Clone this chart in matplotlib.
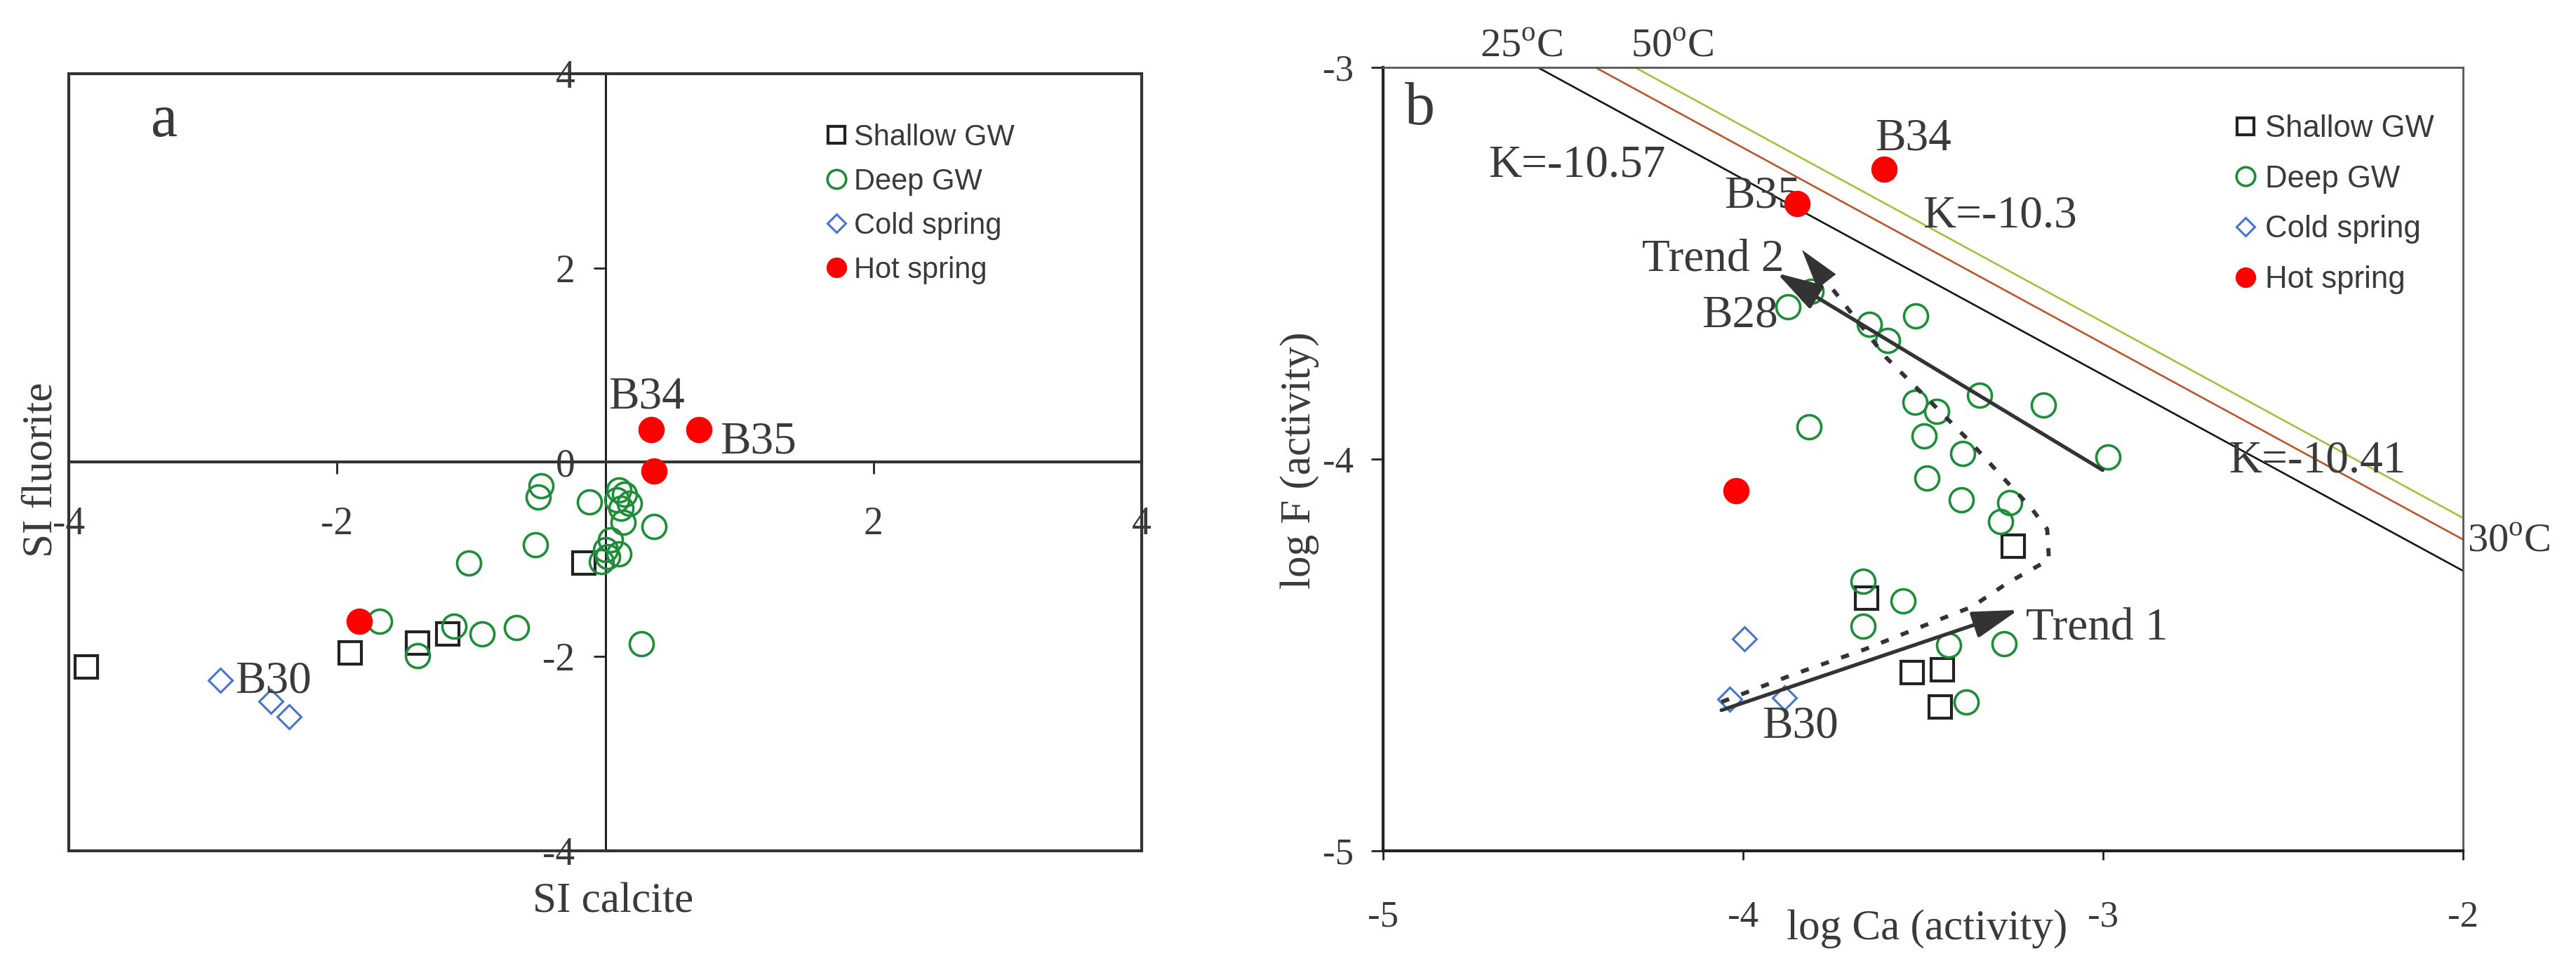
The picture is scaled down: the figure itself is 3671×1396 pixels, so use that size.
import matplotlib
matplotlib.use("Agg")
import matplotlib.pyplot as plt
from matplotlib.patches import Rectangle
import numpy as np

plt.rcParams['font.family'] = ['Liberation Serif', 'DejaVu Serif']
plt.rcParams['mathtext.fontset'] = 'custom'
plt.rcParams['mathtext.rm'] = 'Liberation Serif'
plt.rcParams['axes.unicode_minus'] = False

# ---------------- Panel a data (SI calcite, SI fluorite) ----------------
a_shallow_x = [-3.87, -1.90, -1.40, -1.175, -0.16]
a_shallow_y = [-2.11, -1.96, -1.86, -1.77, -1.04]
a_deep_x = [-0.48, -0.50, -0.12, 0.10, 0.145, 0.18, 0.085, 0.12, 0.365, 0.135,
            0.04, 0.005, 0.10, -0.03, 0.02, -0.52, -1.02, -0.66, -0.92, -1.13,
            -1.40, 0.27, -1.68]
a_deep_y = [-0.24, -0.36, -0.41, -0.285, -0.33, -0.42, -0.39, -0.47, -0.66, -0.62,
            -0.80, -0.90, -0.94, -1.02, -0.97, -0.85, -1.04, -1.70, -1.77, -1.69,
            -1.99, -1.87, -1.64]
a_cold_x = [-2.87, -2.495, -2.355]
a_cold_y = [-2.245, -2.46, -2.62]
a_hot_x = [0.342, 0.70, 0.363, -1.836]
a_hot_y = [0.339, 0.339, -0.092, -1.64]

# ---------------- Panel b data (log Ca, log F activity) ----------------
b_shallow_x = [-3.250, -3.656, -3.530, -3.446, -3.452]
b_shallow_y = [-4.223, -4.355, -4.545, -4.538, -4.632]
b_deep_x = [-3.876, -3.810, -3.648, -3.520, -3.598, -3.342, -3.165, -3.523, -3.461,
            -3.817, -3.496, -3.389, -2.986, -3.489, -3.394, -3.260, -3.285, -3.666,
            -3.555, -3.666, -3.429, -3.275, -3.379]
b_deep_y = [-3.611, -3.571, -3.656, -3.634, -3.697, -3.837, -3.862, -3.855, -3.878,
            -3.917, -3.940, -3.985, -3.995, -4.049, -4.104, -4.111, -4.159, -4.312,
            -4.362, -4.426, -4.474, -4.472, -4.620]
b_cold_x = [-3.996, -4.036, -3.884]
b_cold_y = [-4.458, -4.613, -4.609]
b_hot_x = [-3.608, -3.850, -4.020]
b_hot_y = [-3.260, -3.348, -4.081]

# fluorite saturation lines: log K values and temperatures
sat_K = [-10.57, -10.41, -10.3]
sat_colors = ['#151515', '#b8562c', '#9dc43f']

# trend annotations
trend1_tail = (-4.060, -4.641)
trend1_tip = (-3.235, -4.385)
trend2_tail = (-3.001, -4.028)
trend2_tip = (-3.906, -3.525)
dash_x = [-4.060, -3.861, -3.663, -3.464, -3.364, -3.265, -3.150, -3.155, -3.200,
          -3.265, -3.374, -3.483, -3.603, -3.712, -3.836]
dash_y = [-4.620, -4.550, -4.486, -4.413, -4.377, -4.316, -4.257, -4.179, -4.124,
          -4.060, -3.951, -3.850, -3.740, -3.612, -3.466]

labels = ['Shallow GW', 'Deep GW', 'Cold spring', 'Hot spring']
GREEN = '#1e8c38'
BLUE = '#4a74c9'
RED = '#ff0000'
TXT = '#3a3a3a'

fig = plt.figure(figsize=(36.71, 13.96), dpi=100)
axA = fig.add_axes([0.0267, 0.1318, 0.4165, 0.793])
axB = fig.add_axes([0.5369, 0.1318, 0.4192, 0.7994])


def draw_points(ax, sx, sy, dx, dy, cx, cy, hx, hy):
    ax.plot(sx, sy, 's', ms=23, mfc='none', mec='#222222', mew=3.0, ls='none',
            label=labels[0], zorder=3)
    ax.plot(dx, dy, 'o', ms=24.5, mfc='none', mec=GREEN, mew=2.6, ls='none',
            label=labels[1], zorder=3)
    ax.plot(cx, cy, 'D', ms=17, mfc='none', mec=BLUE, mew=2.2, ls='none',
            label=labels[2], zorder=3)
    ax.plot(hx, hy, 'o', ms=27, mfc=RED, mec='none', ls='none',
            label=labels[3], zorder=4)


# ================= Panel a =================
axA.set_xlim(-4, 4)
axA.set_ylim(-4, 4)
draw_points(axA, a_shallow_x, a_shallow_y, a_deep_x, a_deep_y,
            a_cold_x, a_cold_y, a_hot_x, a_hot_y)
axA.spines['left'].set_position(('data', 0))
axA.spines['bottom'].set_position(('data', 0))
axA.spines['top'].set_visible(False)
axA.spines['right'].set_visible(False)
axA.spines['left'].set_linewidth(2.2)
axA.spines['bottom'].set_linewidth(3.0)
axA.spines['left'].set_color('#222222')
axA.spines['bottom'].set_color('#333333')
axA.add_patch(Rectangle((0, 0), 1, 1, transform=axA.transAxes, fill=False,
                        lw=3.0, ec='#333333', clip_on=False, zorder=5))
axA.set_xticks([-4, -2, 2, 4])
axA.set_xticklabels(['-4', '-2', '2', '4'])
axA.set_yticks([-4, -2, 0, 2, 4])
axA.set_yticklabels(['-4', '-2', '0', '2', '4'])
axA.tick_params(axis='x', direction='out', length=12, width=2, pad=33,
                labelsize=40, colors='#222222', labelcolor=TXT)
axA.tick_params(axis='y', direction='out', length=12, width=2, pad=19,
                labelsize=40, colors='#222222', labelcolor=TXT)
axA.text(0.507, -0.066, 'SI calcite', transform=axA.transAxes, fontsize=44,
         ha='center', va='center', color=TXT)
axA.text(-0.026, 0.49, 'SI fluorite', transform=axA.transAxes, fontsize=44,
         ha='center', va='center', rotation=90, color=TXT)
axA.text(-3.29, 3.51, 'a', fontsize=62, ha='center', va='center', color=TXT)
axA.text(0.31, 0.67, 'B34', fontsize=47, ha='center', va='center', color=TXT, zorder=6)
axA.text(1.14, 0.21, 'B35', fontsize=47, ha='center', va='center', color=TXT, zorder=6)
axA.text(-2.76, -2.26, 'B30', fontsize=47, ha='left', va='center', color=TXT, zorder=6)
axA.legend(loc='upper left', bbox_to_anchor=(0.702, 0.936), frameon=False,
           prop={'family': 'Liberation Sans', 'size': 30}, markerscale=0.78,
           handletextpad=0.1, handlelength=1.0, labelspacing=0.55,
           borderaxespad=0, borderpad=0, labelcolor=TXT)

# ================= Panel b =================
axB.set_xlim(-5, -2)
axB.set_ylim(-5, -3)
xs = np.array([-5.0, -2.0])
for K, col in zip(sat_K, sat_colors):
    axB.plot(xs, (K - xs) / 2.0, color=col, lw=1.9, zorder=1)

draw_points(axB, b_shallow_x, b_shallow_y, b_deep_x, b_deep_y,
            b_cold_x, b_cold_y, b_hot_x, b_hot_y)

ARW = '#333333'
axB.plot(dash_x, dash_y, color=ARW, lw=4.2, ls=(0, (2.0, 3.2)), zorder=4,
         solid_capstyle='butt', dash_capstyle='butt')
hx = dash_x[-1] - 0.5 * (dash_x[-1] - dash_x[-2])
hy = dash_y[-1] - 0.5 * (dash_y[-1] - dash_y[-2])
axB.annotate('', xy=(dash_x[-1], dash_y[-1]), xytext=(hx, hy),
             arrowprops=dict(arrowstyle='-|>,head_length=0.95,head_width=0.28',
                             mutation_scale=42, color=ARW, lw=0.5,
                             shrinkA=0, shrinkB=0), zorder=5)
for tail, tip in [(trend1_tail, trend1_tip), (trend2_tail, trend2_tip)]:
    axB.annotate('', xy=tip, xytext=tail,
                 arrowprops=dict(arrowstyle='-|>,head_length=0.95,head_width=0.28',
                                 mutation_scale=42, color=ARW, lw=3.8,
                                 shrinkA=0, shrinkB=0), zorder=5)

for side in ['left', 'bottom']:
    axB.spines[side].set_linewidth(3.0)
    axB.spines[side].set_color('#222222')
for side in ['top', 'right']:
    axB.spines[side].set_linewidth(2.0)
    axB.spines[side].set_color('#555555')
axB.set_xticks([-5, -4, -3, -2])
axB.set_xticklabels(['-5', '-4', '-3', '-2'])
axB.set_yticks([-5, -4, -3])
axB.set_yticklabels(['-5', '-4', '-3'])
axB.tick_params(axis='x', direction='out', length=9, width=2, pad=42,
                labelsize=38, colors='#222222', labelcolor=TXT)
axB.tick_params(axis='y', direction='out', length=12, width=2, pad=18,
                labelsize=38, colors='#222222', labelcolor=TXT)
axB.text(0.5036, -0.0995, 'log Ca (activity)', transform=axB.transAxes, fontsize=44,
         ha='center', va='center', color=TXT)
axB.text(-0.077, 0.498, 'log F (activity)', transform=axB.transAxes, fontsize=44,
         ha='center', va='center', rotation=90, color=TXT)
axB.text(-4.897, -3.108, 'b', fontsize=62, ha='center', va='center', color=TXT)
axB.text(-4.616, -2.948, '25$^{\\mathrm{o}}$C', fontsize=42, ha='center', va='center',
         color=TXT, clip_on=False)
axB.text(-4.197, -2.948, '50$^{\\mathrm{o}}$C', fontsize=42, ha='center', va='center',
         color=TXT, clip_on=False)
axB.text(-1.988, -4.211, '30$^{\\mathrm{o}}$C', fontsize=42, ha='left', va='center',
         color=TXT, clip_on=False)
axB.text(-4.462, -3.25, 'K=-10.57', fontsize=47, ha='center', va='center', color=TXT)
axB.text(-3.287, -3.38, 'K=-10.3', fontsize=47, ha='center', va='center', color=TXT)
axB.text(-2.405, -4.005, 'K=-10.41', fontsize=47, ha='center', va='center', color=TXT)
axB.text(-3.527, -3.183, 'B34', fontsize=47, ha='center', va='center', color=TXT)
axB.text(-3.84, -3.33, 'B35', fontsize=47, ha='right', va='center', color=TXT, zorder=2)
axB.text(-4.084, -3.49, 'Trend 2', fontsize=47, ha='center', va='center', color=TXT)
axB.text(-4.008, -3.634, 'B28', fontsize=47, ha='center', va='center', color=TXT)
axB.text(-3.84, -4.682, 'B30', fontsize=47, ha='center', va='center', color=TXT)
axB.text(-3.215, -4.431, 'Trend 1', fontsize=47, ha='left', va='center', color=TXT)
axB.legend(loc='upper left', bbox_to_anchor=(0.7843, 0.94), frameon=False,
           prop={'family': 'Liberation Sans', 'size': 31.5}, markerscale=0.78,
           handletextpad=0.15, handlelength=1.0, labelspacing=0.7,
           borderaxespad=0, borderpad=0, labelcolor=TXT)

fig.savefig('out.png', dpi=100)
